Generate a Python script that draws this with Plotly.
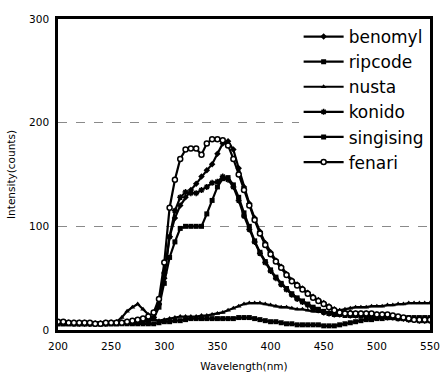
import plotly.graph_objects as go

# Emission spectra, sampled every 5 nm from 200 to 550 nm
wavelength = list(range(200, 555, 5))

benomyl = [7, 7, 7, 7, 7, 7, 6, 6, 6, 7, 7, 7, 7, 8, 8, 9, 10, 11, 12, 25,
           50, 90, 108, 120, 128, 135, 141, 148, 154, 160, 170, 180, 182, 174, 156, 138,
           122, 108, 95, 84, 75, 67, 61, 54, 48, 44, 40, 36, 32, 29, 26, 23,
           20, 18, 17, 17, 16, 16, 16, 15, 15, 15, 14, 13, 12, 11, 11, 10, 10, 10, 10]

ripcode = [6, 6, 6, 6, 6, 6, 6, 6, 6, 6, 6, 6, 7, 7, 7, 8, 8, 9, 11, 22,
           45, 70, 85, 98, 100, 100, 100, 100, 112, 125, 138, 146, 147, 140, 128, 113,
           100, 86, 75, 66, 58, 51, 45, 40, 35, 31, 28, 25, 22, 20, 18, 16,
           15, 15, 14, 14, 14, 14, 13, 13, 13, 13, 12, 12, 11, 11, 10, 10, 9, 9, 9]

nusta = [7, 7, 7, 7, 7, 7, 7, 7, 7, 7, 7, 8, 12, 18, 22, 25, 20, 15, 10, 9,
         10, 11, 12, 13, 13, 13, 13, 14, 14, 15, 16, 17, 19, 21, 23, 25,
         26, 26, 26, 25, 24, 23, 22, 22, 21, 20, 20, 19, 18, 18, 17, 17,
         18, 19, 20, 21, 22, 22, 22, 23, 23, 23, 24, 24, 25, 25, 26, 26, 26, 26, 26]

konido = [7, 7, 7, 6, 6, 6, 6, 6, 6, 6, 7, 7, 7, 7, 8, 8, 9, 10, 12, 25,
          55, 90, 115, 128, 133, 132, 132, 135, 138, 142, 143, 148, 145, 138, 125, 110,
          97, 85, 74, 65, 57, 50, 44, 39, 34, 30, 27, 24, 21, 19, 17, 16,
          15, 15, 15, 14, 14, 14, 14, 14, 13, 13, 12, 12, 11, 11, 10, 10, 9, 9, 9]

singising = [6, 6, 6, 6, 6, 6, 6, 6, 6, 6, 6, 6, 6, 6, 6, 6, 6, 6, 6, 7,
             8, 8, 9, 9, 10, 11, 11, 11, 11, 11, 11, 11, 11, 11, 12, 12,
             12, 11, 10, 9, 8, 8, 7, 6, 6, 5, 5, 5, 5, 5, 4, 4,
             4, 5, 6, 7, 8, 9, 10, 10, 11, 11, 12, 12, 12, 12, 12, 12, 12, 12, 12]

fenari = [8, 8, 7, 7, 7, 7, 7, 6, 6, 7, 7, 7, 7, 8, 9, 10, 11, 13, 17, 30,
          65, 118, 145, 165, 174, 175, 175, 169, 180, 184, 184, 183, 178, 165, 150, 135,
          120, 106, 93, 82, 73, 66, 60, 53, 47, 43, 39, 35, 31, 28, 25, 22,
          19, 17, 16, 16, 16, 16, 16, 16, 15, 15, 15, 14, 13, 12, 11, 10, 10, 10, 10]

series = [
    ("benomyl", benomyl, dict(symbol="diamond", size=5, color="black")),
    ("ripcode", ripcode, dict(symbol="square", size=5, color="black")),
    ("nusta", nusta, dict(symbol="triangle-up", size=5, color="black")),
    ("konido", konido, dict(symbol="asterisk", size=5, color="black",
                            line=dict(color="black", width=1.5))),
    ("singising", singising, dict(symbol="square", size=5, color="black")),
    ("fenari", fenari, dict(symbol="circle", size=5, color="white",
                            line=dict(color="black", width=1.5))),
]

fig = go.Figure()
for name, values, marker in series:
    fig.add_trace(go.Scatter(
        x=wavelength, y=values, name=name, mode="lines+markers",
        line=dict(color="black", width=2.2), marker=marker,
    ))

tick_font = dict(family="DejaVu Sans, sans-serif", size=10.5, color="black")
title_font = dict(family="DejaVu Sans, sans-serif", size=10.5, color="black")

fig.update_layout(
    width=440, height=372,
    margin=dict(l=58, r=10, t=19, b=42),
    paper_bgcolor="white", plot_bgcolor="white",
    font=tick_font,
    xaxis=dict(
        range=[200, 550], tickmode="array", tickvals=list(range(200, 551, 50)),
        showgrid=False, zeroline=False,
        showline=True, linecolor="black", linewidth=2.5, mirror=True,
        ticks="", tickfont=tick_font, automargin=False,
        ticklabeloverflow="allow", ticklabelstandoff=5,
        title=dict(text="Wavelength(nm)", font=title_font, standoff=13),
    ),
    yaxis=dict(
        range=[0, 300], tickmode="array", tickvals=[0, 100, 200, 300],
        showgrid=True, gridcolor="#8a8a8a", gridwidth=1, griddash="dash",
        zeroline=False,
        showline=True, linecolor="black", linewidth=2.5, mirror=True,
        ticks="", tickfont=tick_font, automargin=False,
        ticklabeloverflow="allow", ticklabelstandoff=4,
        title=dict(text="Intensity(counts)", font=title_font, standoff=12),
    ),
    legend=dict(
        x=0.999, y=1.0, xanchor="right", yanchor="top",
        bgcolor="white", borderwidth=0,
        font=dict(family="DejaVu Sans, sans-serif", size=17, color="black"),
        tracegroupgap=0, itemwidth=40,
    ),
    showlegend=True,
)

fig.write_html("out.html")
